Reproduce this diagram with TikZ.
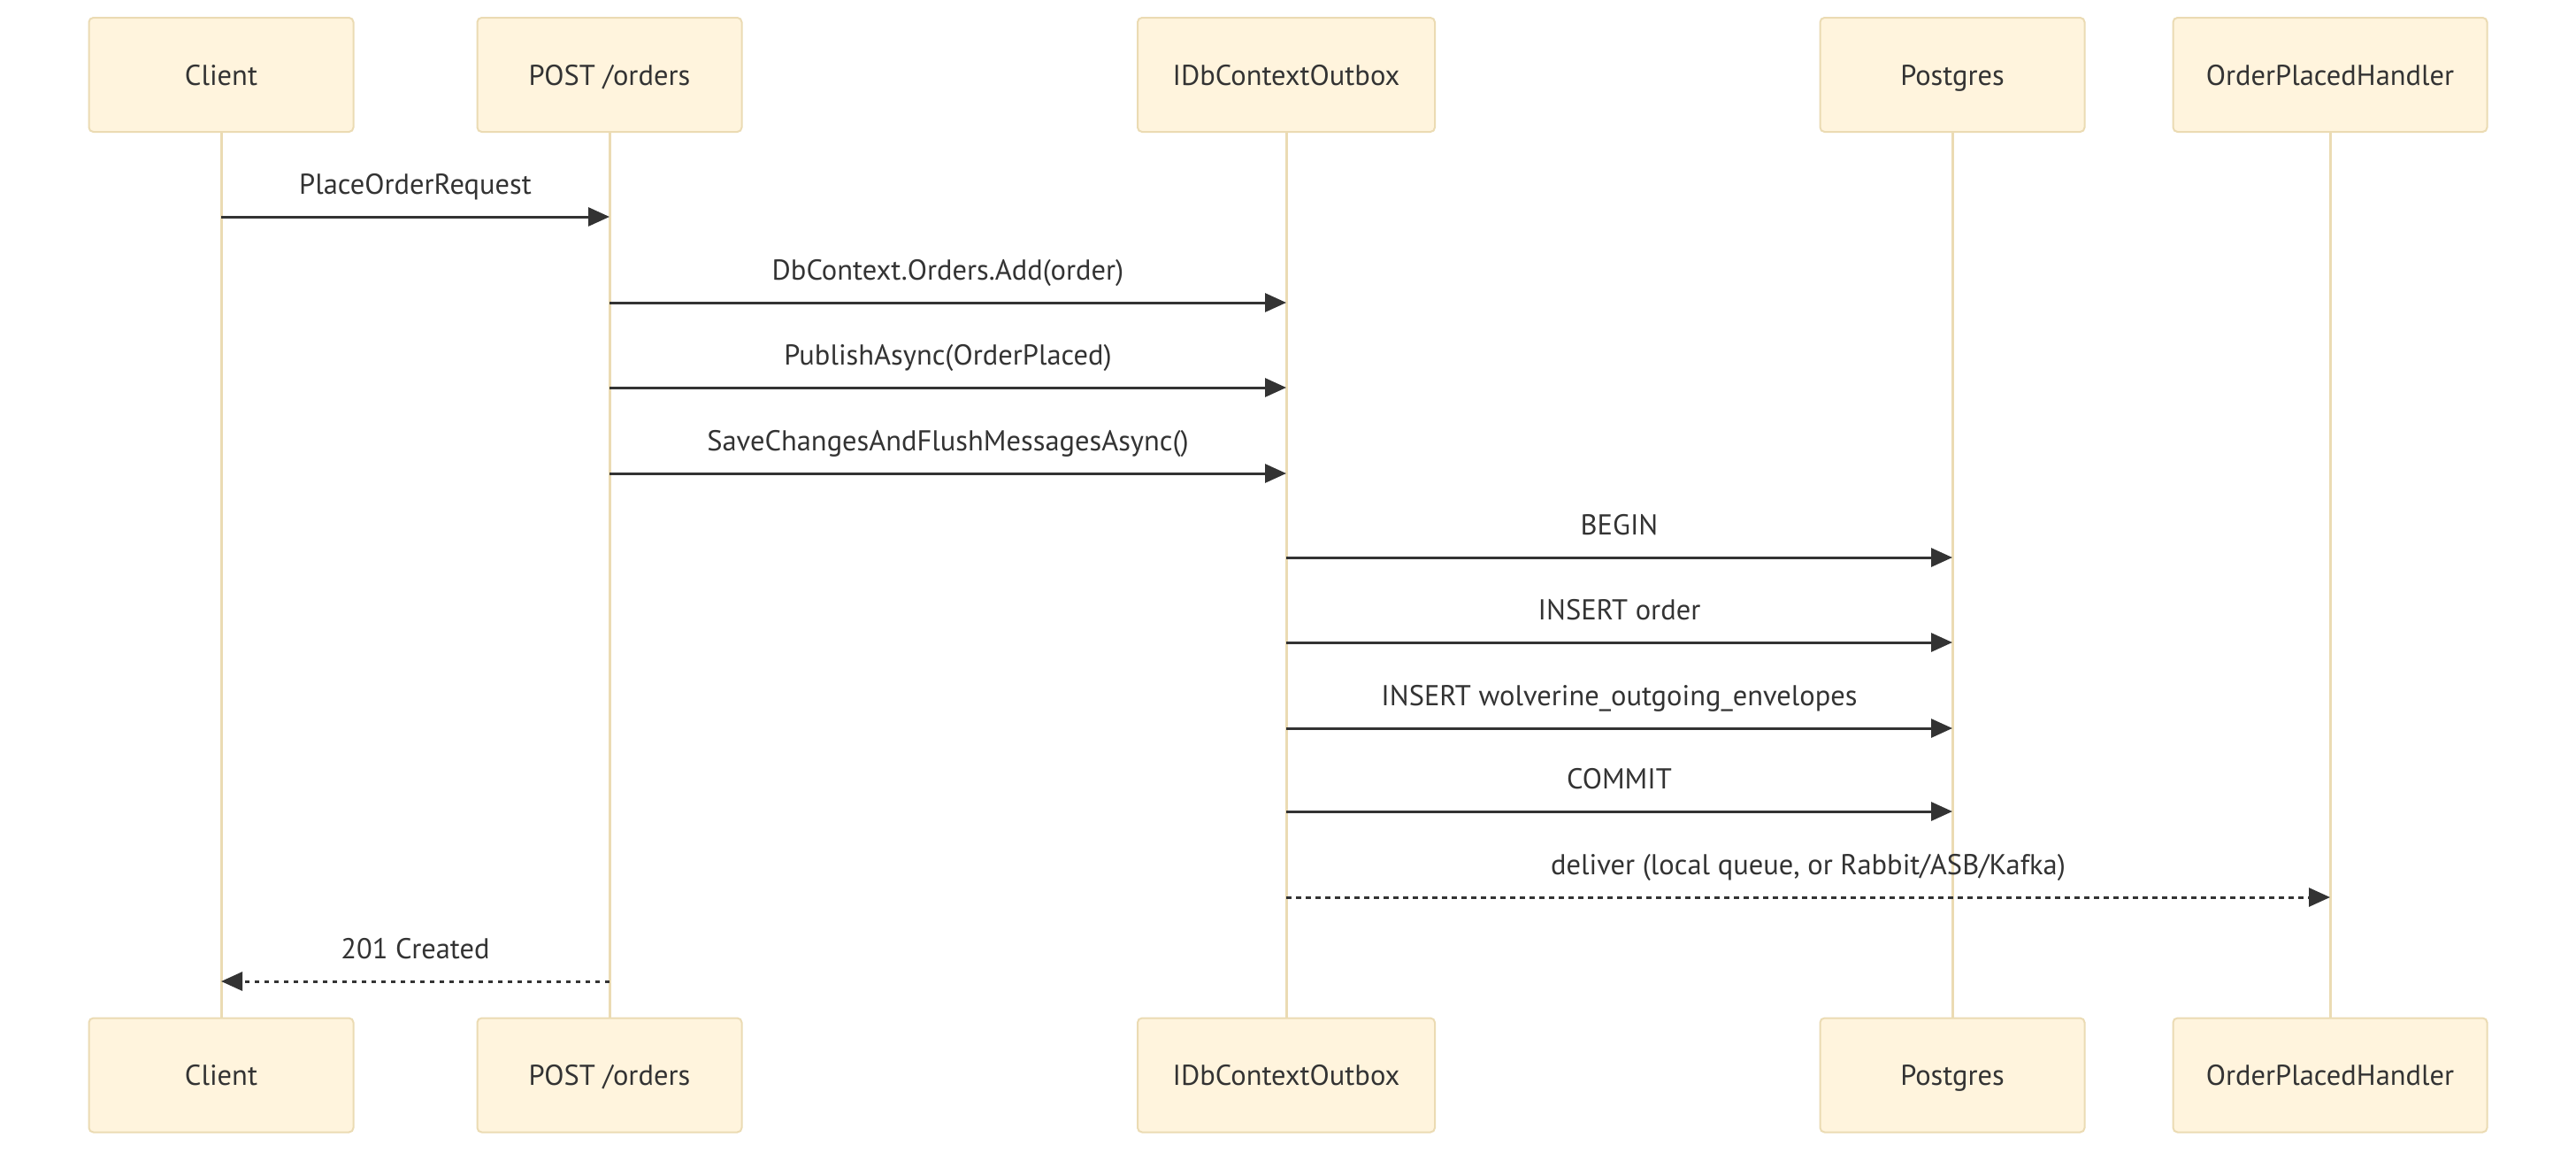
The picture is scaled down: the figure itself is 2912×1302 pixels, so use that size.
\documentclass[tikz,border=0pt]{standalone}
\usepackage{fontspec}
\setmainfont{PT Sans}
\usetikzlibrary{arrows.meta}
\definecolor{actfill}{HTML}{FFF4DD}
\definecolor{actline}{HTML}{EBDBB3}
\definecolor{ink}{HTML}{333333}
\begin{document}
\begin{tikzpicture}[x=1pt,y=-1pt,
  actor/.style={draw=actline, line width=2pt, fill=actfill, rounded corners=5pt,
    minimum height=129pt, text=ink, font=\fontsize{32.5}{38}\selectfont, inner sep=0pt,
    text height=23pt, text depth=0pt},
  life/.style={draw=actline, line width=3pt},
  msg/.style={draw=ink, line width=3pt, -{Triangle[length=24pt,width=21pt]}},
  reply/.style={msg, dash pattern=on 5.5pt off 5.5pt},
  lbl/.style={text=ink, font=\fontsize{32.5}{38}\selectfont, anchor=base, inner sep=0pt, yshift=26pt}]
\useasboundingbox (0,0) rectangle (2912,1302);
\fill[white] (0,0) rectangle (2912,1302);
% actors top
\node[actor, minimum width=299pt] (cT) at (250,84.5) {Client};
\node[actor, minimum width=299pt] (pT) at (689,84.5) {POST /orders};
\node[actor, minimum width=336pt] (oT) at (1454,84.5) {IDbContextOutbox};
\node[actor, minimum width=299pt] (gT) at (2207,84.5) {Postgres};
\node[actor, minimum width=355pt] (hT) at (2634,84.5) {OrderPlacedHandler};
% actors bottom
\node[actor, minimum width=299pt] (cB) at (250,1215) {Client};
\node[actor, minimum width=299pt] (pB) at (689,1215) {POST /orders};
\node[actor, minimum width=336pt] (oB) at (1454,1215) {IDbContextOutbox};
\node[actor, minimum width=299pt] (gB) at (2207,1215) {Postgres};
\node[actor, minimum width=355pt] (hB) at (2634,1215) {OrderPlacedHandler};
% lifelines
\draw[life] (cT.south) -- (cB.north);
\draw[life] (pT.south) -- (pB.north);
\draw[life] (oT.south) -- (oB.north);
\draw[life] (gT.south) -- (gB.north);
\draw[life] (hT.south) -- (hB.north);
% messages
\draw[msg] (cT |- 0,245) -- node[lbl] {PlaceOrderRequest} (pT |- 0,245);
\draw[msg] (pT |- 0,342) -- node[lbl] {DbContext.Orders.Add(order)} (oT |- 0,342);
\draw[msg] (pT |- 0,438) -- node[lbl] {PublishAsync(OrderPlaced)} (oT |- 0,438);
\draw[msg] (pT |- 0,535) -- node[lbl] {SaveChangesAndFlushMessagesAsync()} (oT |- 0,535);
\draw[msg] (oT |- 0,630) -- node[lbl] {BEGIN} (gT |- 0,630);
\draw[msg] (oT |- 0,726) -- node[lbl] {INSERT order} (gT |- 0,726);
\draw[msg] (oT |- 0,823) -- node[lbl] {INSERT wolverine\_outgoing\_envelopes} (gT |- 0,823);
\draw[msg] (oT |- 0,917) -- node[lbl] {COMMIT} (gT |- 0,917);
\draw[reply] (oT |- 0,1014) -- node[lbl] {deliver (local queue, or Rabbit/ASB/Kafka)} (hT |- 0,1014);
\draw[reply] (pT |- 0,1109) -- node[lbl] {201 Created} (cT |- 0,1109);
\end{tikzpicture}
\end{document}
